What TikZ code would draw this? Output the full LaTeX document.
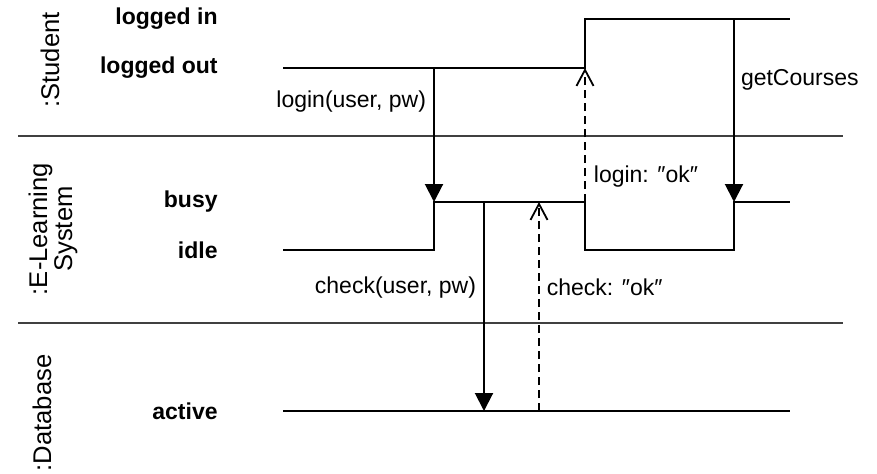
\documentclass[tikz,border=0pt]{standalone}
\usepackage{fontspec}
\setmainfont{Liberation Sans}
\usetikzlibrary{arrows.meta}

\begin{document}
\begin{tikzpicture}[
  x=0.5pt, y=-0.5pt,
  font=\fontsize{11.5}{13}\selectfont,
  lane/.style={rotate=90, align=center, inner sep=0pt,
               font=\fontsize{12.8}{12.5}\selectfont},
  state/.style={anchor=east, inner sep=0pt,
                font=\fontsize{11.5}{13}\selectfont\bfseries},
  msg/.style={inner sep=0pt},
  divider/.style={line width=1.3pt, black!75},
  timeline/.style={line width=1pt},
  call/.style={-{Triangle[length=9pt, width=9pt]}, line width=1pt},
  reply/.style={-{Straight Barb[length=8pt, width=8.5pt]}, line width=0.9pt,
                dash pattern=on 4pt off 2.5pt},
]
\useasboundingbox (0,0) rectangle (877,473);
% state levels
\def\yin{19}
\def\yout{68}
\def\ybusy{202}
\def\yidle{250}
\def\yact{411}
% lanes
\draw[divider] (18,136) -- (843,136);
\draw[divider] (18,323) -- (843,323);
\node[lane] (student)   at (50,60)  {:Student};
\node[lane] (elearning) at (53,229) {:E-Learning\\System};
\node[lane] (database)  at (42,413) {:Database};
% state names
\node[state] (loggedin)  at (218,\yin)   {logged in};
\node[state] (loggedout) at (218,\yout)  {logged out};
\node[state] (busy)      at (218,\ybusy) {busy};
\node[state] (idle)      at (218,\yidle) {idle};
\node[state] (active)    at (218,\yact)  {active};
% Student timeline
\coordinate (s0)    at (283,\yout);
\coordinate (sLogin) at (434,\yout);
\coordinate (sOk)   at (585,\yout);
\coordinate (sGet)  at (734,\yin);
\draw[timeline] (s0) -- (sOk) -- (585,\yin) -- (790,\yin);
% E-Learning System timeline
\coordinate (e0)       at (283,\yidle);
\coordinate (eLogin)   at (434,\ybusy);
\coordinate (eCheck)   at (484,\ybusy);
\coordinate (eCheckOk) at (539,\ybusy);
\coordinate (eOk)      at (585,\ybusy);
\coordinate (eGet)     at (734,\ybusy);
\draw[timeline] (e0) -- (434,\yidle) -- (eLogin) -- (eOk) -- (585,\yidle)
      -- (734,\yidle) -- (eGet) -- (790,\ybusy);
% Database timeline
\coordinate (d0)     at (283,\yact);
\coordinate (dCheck) at (484,\yact);
\coordinate (dOk)    at (539,\yact);
\draw[timeline] (d0) -- (790,\yact);
% messages
\draw[call] (sLogin) -- (eLogin)
      node[msg, left=3.5pt, pos=0.25] {login(user, pw)};
\draw[call] (eCheck) -- (dCheck)
      node[msg, left=3.5pt, pos=0.41] {check(user, pw)};
\draw[reply] (dOk) -- (eCheckOk)
      node[msg, right=3.5pt, pos=0.59] {check: ″ok″};
\draw[reply] (eOk) -- (sOk)
      node[msg, right=4pt, pos=0.19] {login: ″ok″};
\draw[call] (sGet) -- (eGet)
      node[msg, right=3pt, pos=0.33] {getCourses};
\end{tikzpicture}
\end{document}
